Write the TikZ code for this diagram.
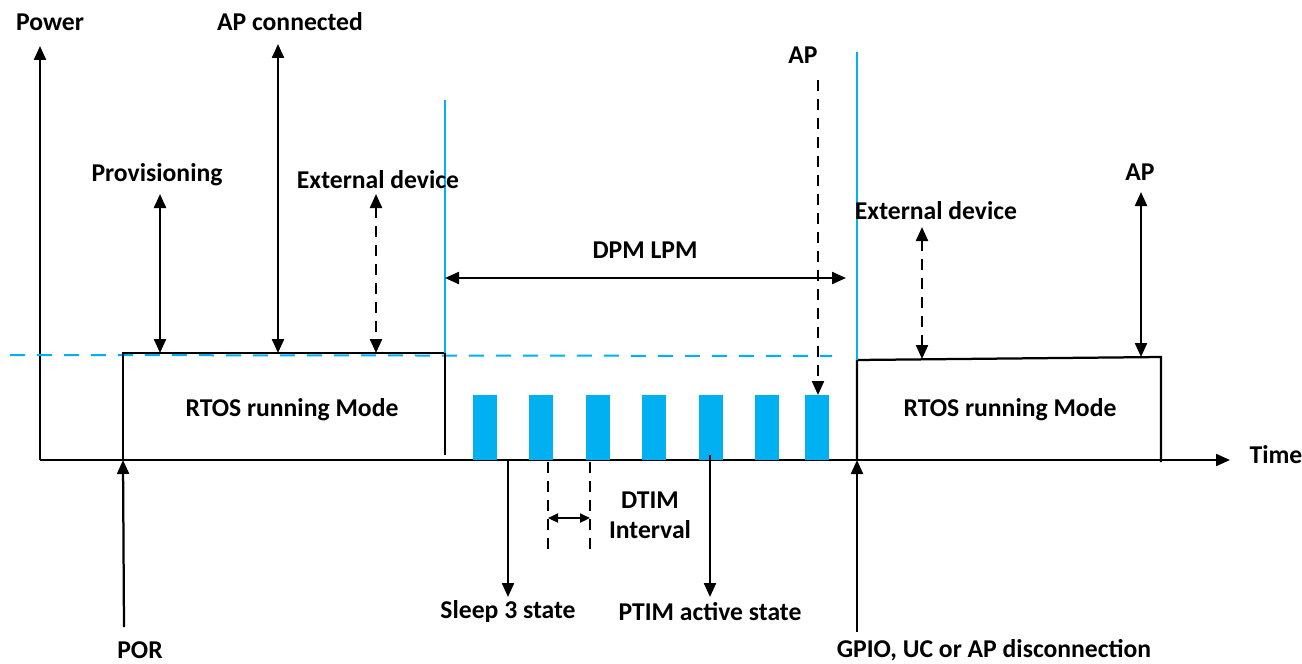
\documentclass[tikz,border=0pt]{standalone}
\usepackage{fontspec}
\setmainfont{Carlito}
\usetikzlibrary{arrows.meta}
\definecolor{wifiblue}{RGB}{0,176,240}
\tikzset{
  lbl/.style={font=\bfseries\fontsize{14.6}{17}\selectfont, inner sep=0pt},
  tip/.style={-{Triangle[length=0.28cm,width=0.24cm]}},
  dtip/.style={{Triangle[length=0.28cm,width=0.24cm]}-{Triangle[length=0.28cm,width=0.24cm]}},
  dashline/.style={dash pattern=on 0.22cm off 0.16cm},
  bluedash/.style={wifiblue, line width=0.04cm, dash pattern=on 0.3cm off 0.24cm},
}
\begin{document}
\begin{tikzpicture}[x=0.02cm, y=-0.02cm, line width=0.045cm]
  \useasboundingbox (0,0) rectangle (1302,663);
  % axes
  \coordinate (org) at (40,460);
  \coordinate (ptop) at (40,46);
  \coordinate (tend) at (1230,460);
  \draw[tip] (org) -- (ptop);
  \draw[tip] (org) -- (tend);
  \node[lbl] (power) at (50,22) {Power};
  \node[lbl] (time) at (1276,455) {Time};
  % blue reference level (dashed)
  \coordinate (lvlA) at (10,355);
  \coordinate (lvlB) at (832,356);
  \draw[bluedash] (lvlA) -- (lvlB);
  % first RTOS block
  \coordinate (boxA1) at (123,460);
  \coordinate (boxA2) at (445,353);
  \draw (boxA1) |- (boxA2) -- (445,455);
  \node[lbl] (rtosA) at (292,410) {RTOS running Mode};
  \draw[wifiblue, line width=0.035cm] (445,100) -- (boxA2);
  % second RTOS block
  \coordinate (boxB1) at (857,460);
  \coordinate (boxB2) at (857,360);
  \coordinate (boxB3) at (1161,357);
  \draw (boxB1) -- (boxB2) -- (boxB3) -- (1161,462);
  \node[lbl] (rtosB) at (1010,410) {RTOS running Mode};
  \draw[wifiblue, line width=0.035cm] (857,52) -- (boxB2);
  % DTIM beacons
  \foreach \x in {473,529,586,642,699,755,805}
    \fill[wifiblue] (\x,395) rectangle ++(24,65);
  % events, first block
  \node[lbl] (prov) at (157,175) {Provisioning};
  \draw[dtip] (160,194) -- (160,353);
  \node[lbl] (apcon) at (290,22) {AP connected};
  \coordinate (apconT) at (278,44);
  \coordinate (apconB) at (278,353);
  \draw[dtip] (apconT) -- (apconB);
  \node[lbl] (extA) at (378,180) {External device};
  \draw[dtip, dashline] (376,194) -- (376,353);
  \node[lbl] (por) at (140,650) {POR};
  \draw[tip] (124,627) -- (boxA1);
  % DPM LPM span
  \node[lbl] (dpm) at (645,250) {DPM LPM};
  \draw[dtip] (445,278) -- (846,278);
  \node[lbl] (apmid) at (803,55) {AP};
  \draw[tip, dashline] (818,80) -- (818,395);
  % states below the axis
  \node[lbl] (sleep) at (508,612) {Sleep 3 state};
  \draw[tip] (508,460) -- (508,597);
  \node[lbl] (ptim) at (710,612) {PTIM active state};
  \draw[tip] (710,455) -- (710,597);
  % DTIM interval
  \draw[dashline] (548,462) -- (548,555);
  \draw[dashline] (590,462) -- (590,555);
  \draw[{Triangle[length=0.2cm,width=0.18cm]}-{Triangle[length=0.2cm,width=0.18cm]}] (548,518) -- (590,518);
  \node[lbl, align=center] (dtim) at (650,515) {DTIM\\Interval};
  % events, second block
  \node[lbl] (extB) at (936,211) {External device};
  \draw[dtip, dashline] (922,227) -- (922,359);
  \node[lbl] (apB) at (1140,172) {AP};
  \draw[dtip] (1141,192) -- (1141,357);
  \node[lbl] (gpio) at (994,650) {GPIO, UC or AP disconnection};
  \draw[tip] (857,632) -- (boxB1);
\end{tikzpicture}
\end{document}
